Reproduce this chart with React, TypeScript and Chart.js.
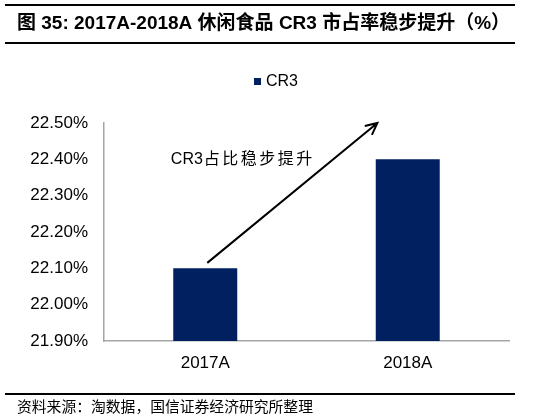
import React, { useEffect, useRef } from 'react';
import Chart from 'chart.js/auto';

const categories = ['2017A', '2018A'];
const cr3Values = [22.1, 22.4];
const yMin = 21.9;
const yMax = 22.5;
const yStep = 0.1;

const titleText = '图 35: 2017A-2018A 休闲食品 CR3 市占率稳步提升（%）';
const sourceText = '资料来源：淘数据，国信证券经济研究所整理';
const notePrefix = 'CR3';
const noteText = '占比稳步提升';
const legendLabel = 'CR3';

// arrow anchor points in data coordinates (category index, value)
const arrowFrom = [0.01, 22.115];
const arrowTo = [0.85, 22.5];
const notePos = [-0.17, 22.398];

const NAVY = '#002060';
const LATIN = "'Liberation Sans', Arial, 'Noto Sans CJK SC', sans-serif";

const decorPlugin = {
  id: 'decor',
  afterDraw(chart) {
    const { ctx, scales } = chart;
    const x = scales.x;
    const y = scales.y;
    ctx.save();

    // title rules and text
    ctx.fillStyle = '#000';
    ctx.fillRect(5, 4, 510, 2);
    ctx.fillRect(5, 42, 510, 2);
    ctx.font = `bold 19px ${LATIN}`;
    ctx.textAlign = 'left';
    ctx.textBaseline = 'middle';
    ctx.fillText(titleText, 17, 24);

    // legend
    ctx.fillStyle = NAVY;
    ctx.fillRect(254, 78, 7, 7);
    ctx.fillStyle = '#000';
    ctx.font = `16px ${LATIN}`;
    ctx.fillText(legendLabel, 266, 82);

    // arrow
    const x0 = x.getPixelForValue(arrowFrom[0]);
    const y0 = y.getPixelForValue(arrowFrom[1]);
    const x1 = x.getPixelForValue(arrowTo[0]);
    const y1 = y.getPixelForValue(arrowTo[1]);
    ctx.strokeStyle = '#000';
    ctx.lineWidth = 2;
    ctx.beginPath();
    ctx.moveTo(x0, y0);
    ctx.lineTo(x1, y1);
    const ang = Math.atan2(y1 - y0, x1 - x0);
    const head = 13;
    ctx.moveTo(x1 - head * Math.cos(ang - 0.45), y1 - head * Math.sin(ang - 0.45));
    ctx.lineTo(x1, y1);
    ctx.lineTo(x1 - head * Math.cos(ang + 0.45), y1 - head * Math.sin(ang + 0.45));
    ctx.stroke();

    // note text
    const nx = x.getPixelForValue(notePos[0]);
    const ny = y.getPixelForValue(notePos[1]);
    ctx.font = `16px ${LATIN}`;
    ctx.fillText(notePrefix, nx, ny);
    const pw = ctx.measureText(notePrefix).width;
    ctx.letterSpacing = '2.5px';
    ctx.fillText(noteText, nx + pw + 1, ny);
    ctx.letterSpacing = '0px';

    // source
    ctx.fillRect(5, 393, 510, 2);
    ctx.font = "14.8px 'Noto Sans CJK SC', sans-serif";
    ctx.fillText(sourceText, 17, 406);

    ctx.restore();
  },
};

const App = () => {
  const canvasRef = useRef(null);
  const chartRef = useRef(null);

  useEffect(() => {
    document.body.style.margin = '0';
    if (!canvasRef.current) return;
    if (chartRef.current) chartRef.current.destroy();

    chartRef.current = new Chart(canvasRef.current, {
      type: 'bar',
      data: {
        labels: categories,
        datasets: [
          {
            label: legendLabel,
            data: cr3Values,
            backgroundColor: NAVY,
            categoryPercentage: 1,
            barPercentage: 0.316,
          },
        ],
      },
      options: {
        animation: false,
        responsive: true,
        maintainAspectRatio: false,
        layout: { padding: { top: 123, right: 36, left: 0, bottom: 0 } },
        plugins: {
          legend: { display: false },
          title: { display: false },
          tooltip: { enabled: false },
        },
        scales: {
          x: {
            grid: { display: false, drawTicks: false },
            border: { display: true, color: '#a6a6a6', width: 1.5 },
            ticks: { color: '#000', font: { family: LATIN, size: 17 }, padding: 12 },
            afterFit: (scale) => {
              scale.height = 78;
            },
          },
          y: {
            min: yMin,
            max: yMax,
            grid: { display: false, drawTicks: false },
            border: { display: true, color: '#a6a6a6', width: 1.5 },
            ticks: {
              stepSize: yStep,
              color: '#000',
              font: { family: LATIN, size: 17 },
              padding: 16,
              callback: (v) => Number(v).toFixed(2) + '%',
            },
            afterFit: (scale) => {
              scale.width = 104;
            },
          },
        },
      },
      plugins: [decorPlugin],
    });

    return () => {
      if (chartRef.current) {
        chartRef.current.destroy();
        chartRef.current = null;
      }
    };
  }, []);

  return (
    <div style={{ position: 'relative', width: 545, height: 419, background: '#fff' }}>
      <canvas ref={canvasRef} />
    </div>
  );
};

export default App;
